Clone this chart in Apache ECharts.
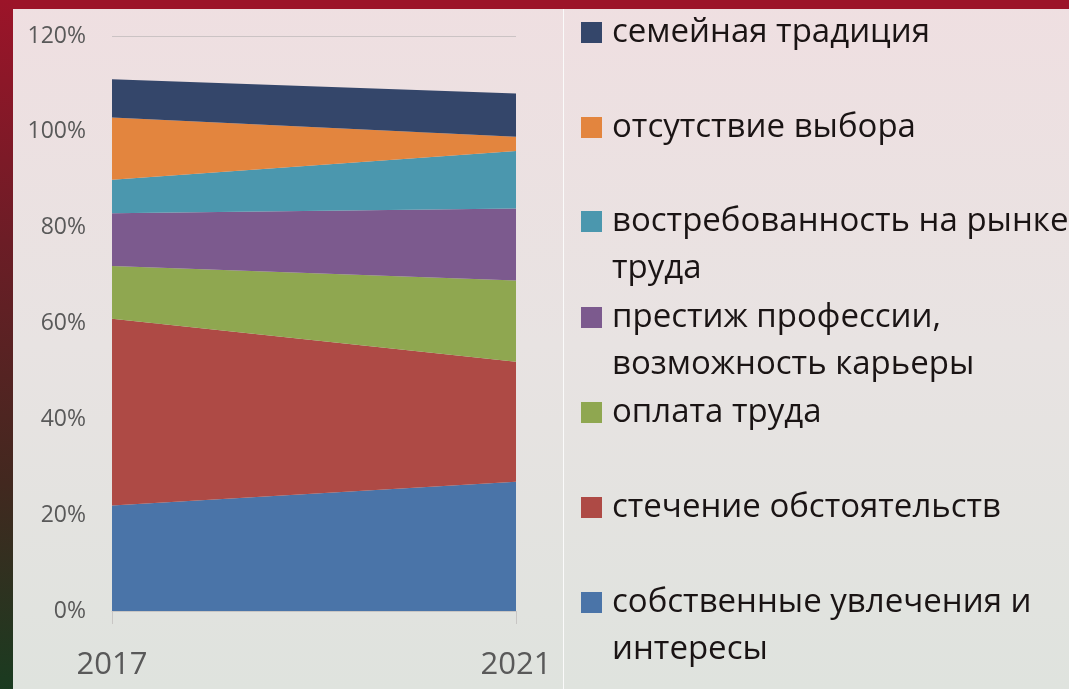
<!DOCTYPE html>
<html>
<head>
<meta charset="utf-8">
<script src="https://cdn.jsdelivr.net/npm/echarts@6/dist/echarts.min.js"></script>
<style>
html,body{margin:0;padding:0;width:1069px;height:689px;overflow:hidden;}
#chart{width:1069px;height:689px;}
</style>
</head>
<body>
<div id="chart"></div>
<script>
const years = ['2017', '2021'];
const seriesNames = [
  'собственные увлечения и\nинтересы',
  'стечение обстоятельств',
  'оплата труда',
  'престиж профессии,\nвозможность карьеры',
  'востребованность на рынке\nтруда',
  'отсутствие выбора',
  'семейная традиция'
];
const interestsValues = [22, 27];
const circumstancesValues = [39, 25];
const salaryValues = [11, 17];
const prestigeValues = [11, 15];
const demandValues = [7, 12];
const noChoiceValues = [13, 3];
const familyValues = [8, 9];
const yTicks = [0, 20, 40, 60, 80, 100, 120];

const seriesValues = [interestsValues, circumstancesValues, salaryValues, prestigeValues, demandValues, noChoiceValues, familyValues];
const colors = ['#4a74a8', '#ae4a45', '#8fa750', '#7c5a8e', '#4b97ae', '#e3853e', '#34466a'];

const chart = echarts.init(document.getElementById('chart'), null, {renderer: 'canvas'});

// legend squares' top edges, top to bottom (family ... interests)
const squareTops = [22, 117, 211, 307, 402, 497, 592];
const legendOrder = seriesNames.slice().reverse();
const LH = 47, SQ = 21;
const legends = legendOrder.map((name, i) => {
  const multi = name.indexOf('\n') >= 0;
  const itemH = multi ? LH * 3 : LH;
  return {
    data: [name],
    orient: 'vertical',
    left: 581,
    top: squareTops[i] - Math.round((itemH - SQ) / 2),
    itemWidth: SQ,
    itemHeight: SQ,
    icon: 'rect',
    selectedMode: false,
    padding: 0,
    formatter: function (n) { return multi ? ' \n' + n : n; },
    textStyle: {
      fontFamily: 'Open Sans',
      fontSize: 33,
      color: '#1a1414',
      lineHeight: LH,
      padding: [0, 0, 0, 5]
    }
  };
});

const option = {
  animation: false,
  backgroundColor: {
    type: 'linear', x: 0, y: 0, x2: 0, y2: 1,
    colorStops: [
      {offset: 0, color: '#efdfe1'},
      {offset: 0.5, color: '#e8e3e2'},
      {offset: 1, color: '#dfe3de'}
    ]
  },
  color: colors,
  grid: {left: 112, right: 553, top: 36, bottom: 78, containLabel: false},
  legend: legends,
  xAxis: {
    type: 'category',
    data: years,
    boundaryGap: false,
    axisLine: {show: true, lineStyle: {color: '#c8c6c4', width: 1}},
    axisTick: {show: true, length: 13, lineStyle: {color: '#c8c6c4'}},
    axisLabel: {fontFamily: 'Open Sans', fontSize: 31, color: '#595959', margin: 39}
  },
  yAxis: {
    type: 'value',
    min: yTicks[0],
    max: yTicks[yTicks.length - 1],
    interval: yTicks[1] - yTicks[0],
    axisLine: {show: false},
    axisTick: {show: false},
    axisLabel: {fontFamily: 'Open Sans', fontSize: 23, color: '#595959', margin: 26, formatter: '{value}%'},
    splitLine: {show: true, lineStyle: {color: '#cbc3c4', width: 1}}
  },
  series: seriesNames.map((name, i) => ({
    name: name,
    type: 'line',
    stack: 'total',
    data: seriesValues[i],
    symbol: 'none',
    lineStyle: {width: 0},
    areaStyle: {color: colors[i], opacity: 1},
    itemStyle: {color: colors[i]},
    z: 2
  })),
  graphic: [
    {type: 'rect', shape: {x: 0, y: 0, width: 1069, height: 9}, style: {fill: '#9c1429'}, z: 100},
    {type: 'rect', shape: {x: 0, y: 0, width: 13, height: 689}, style: {fill: {
      type: 'linear', x: 0, y: 0, x2: 0, y2: 1,
      colorStops: [
        {offset: 0, color: '#9c1429'},
        {offset: 0.35, color: '#6c1d26'},
        {offset: 0.7, color: '#42281f'},
        {offset: 1, color: '#1a3b20'}
      ]}}, z: 100},
    {type: 'rect', shape: {x: 563, y: 9, width: 1, height: 680}, style: {fill: '#fafafa'}, z: 100}
  ]
};
chart.setOption(option);
</script>
</body>
</html>
